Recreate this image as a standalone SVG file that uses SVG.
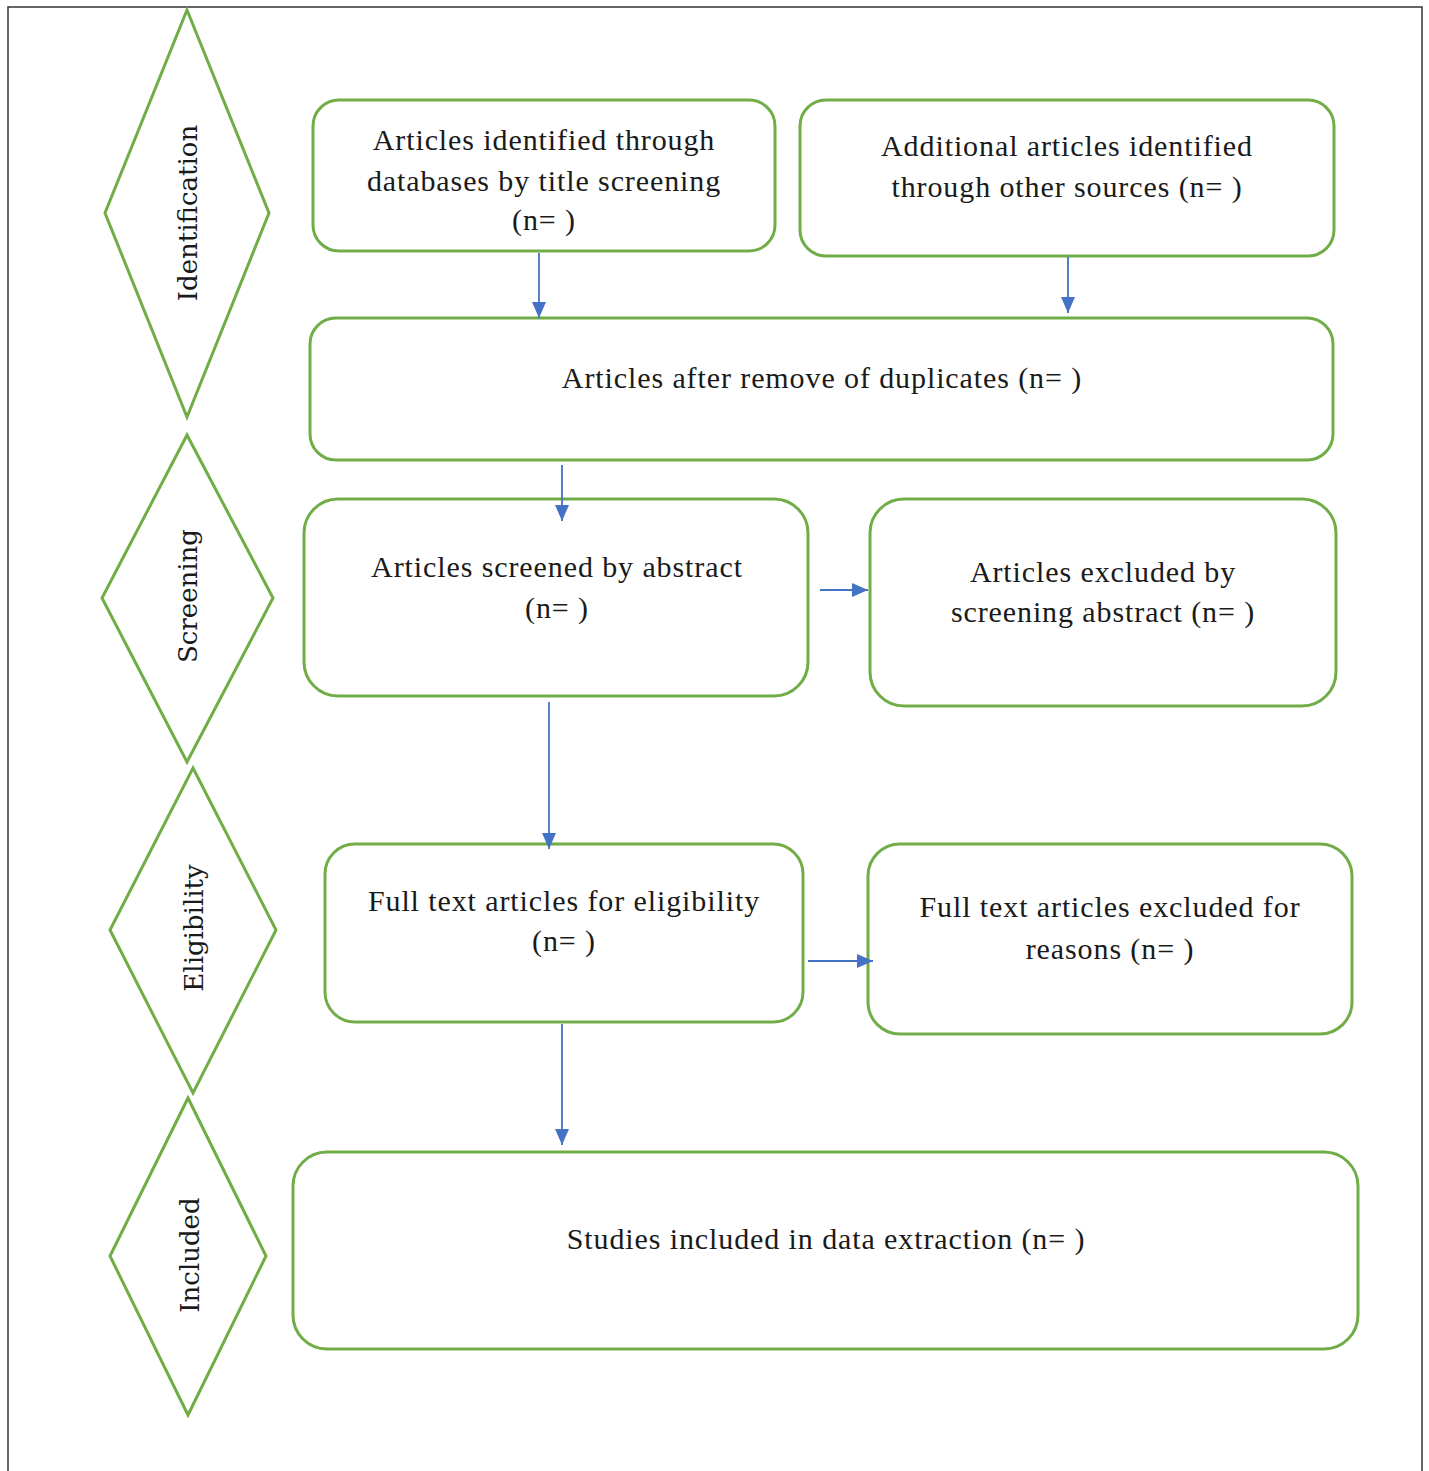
<svg xmlns="http://www.w3.org/2000/svg" width="1429" height="1471" viewBox="0 0 1429 1471">
<style>
.box{fill:#fff;stroke:#70AD47;stroke-width:3}
.dia{fill:#fff;stroke:#70AD47;stroke-width:3}
.t{font-family:"Liberation Serif","Times New Roman",serif;font-size:30px;letter-spacing:0.9px;fill:#1a1a1a;text-anchor:middle}
.r{font-family:"DejaVu Serif","Liberation Serif",serif;font-size:26px;fill:#1a1a1a;text-anchor:middle}
.c{stroke:#4472C4;stroke-width:1.8;fill:none;marker-end:url(#ah)}
</style>
<defs>
<marker id="ah" markerWidth="16" markerHeight="14" refX="16" refY="7" orient="auto" markerUnits="userSpaceOnUse" viewBox="0 0 16 14">
<path d="M0,0 L16,7 L0,14 z" fill="#4472C4"/>
</marker>
</defs>
<rect width="1429" height="1471" fill="#fff"/>
<path d="M8,1475 V7 H1422 V1475" fill="none" stroke="#333" stroke-width="1.5"/>
<g id="identification">
<polygon class="dia" points="187,10 269,213 187,417 105,213"/>
<text class="r" transform="translate(197,213) rotate(-90)">Identification</text>
</g>
<g id="screening">
<polygon class="dia" points="187,435 273,598 187,762 102,598"/>
<text class="r" transform="translate(197,596) rotate(-90)">Screening</text>
</g>
<g id="eligibility">
<polygon class="dia" points="193,768 276,930 193,1093 110,930"/>
<text class="r" transform="translate(203,928) rotate(-90)">Eligibility</text>
</g>
<g id="included">
<polygon class="dia" points="188,1098 266,1256 188,1415 110,1256"/>
<text class="r" transform="translate(199,1255) rotate(-90)">Included</text>
</g>
<g id="b1">
<rect class="box" x="313" y="100" width="462" height="151" rx="26"/>
<text class="t" x="544" y="150">Articles identified through</text>
<text class="t" x="544" y="191">databases by title screening</text>
<text class="t" x="544" y="230">(n= )</text>
</g>
<g id="b2">
<rect class="box" x="800" y="100" width="534" height="156" rx="26"/>
<text class="t" x="1067" y="156">Additional articles identified</text>
<text class="t" x="1067" y="197">through other sources (n= )</text>
</g>
<g id="b3">
<rect class="box" x="310" y="318" width="1023" height="142" rx="26"/>
<text class="t" x="822" y="388">Articles after remove of duplicates (n= )</text>
</g>
<g id="b4">
<rect class="box" x="304" y="499" width="504" height="197" rx="34"/>
<text class="t" x="557" y="577">Articles screened by abstract</text>
<text class="t" x="557" y="618">(n= )</text>
</g>
<g id="b5">
<rect class="box" x="870" y="499" width="466" height="207" rx="34"/>
<text class="t" x="1103" y="582">Articles excluded by</text>
<text class="t" x="1103" y="622">screening abstract (n= )</text>
</g>
<g id="b6">
<rect class="box" x="325" y="844" width="478" height="178" rx="30"/>
<text class="t" x="564" y="911">Full text articles for eligibility</text>
<text class="t" x="564" y="951">(n= )</text>
</g>
<g id="b7">
<rect class="box" x="868" y="844" width="484" height="190" rx="32"/>
<text class="t" x="1110" y="917">Full text articles excluded for</text>
<text class="t" x="1110" y="959">reasons (n= )</text>
</g>
<g id="b8">
<rect class="box" x="293" y="1152" width="1065" height="197" rx="34"/>
<text class="t" x="826" y="1249">Studies included in data extraction (n= )</text>
</g>
<g id="connectors">
<line class="c" x1="539" y1="253" x2="539" y2="318"/>
<line class="c" x1="1068" y1="257" x2="1068" y2="313"/>
<line class="c" x1="562" y1="465" x2="562" y2="521"/>
<line class="c" x1="820" y1="590" x2="868" y2="590"/>
<line class="c" x1="549" y1="702" x2="549" y2="849"/>
<line class="c" x1="808" y1="961" x2="873" y2="961"/>
<line class="c" x1="562" y1="1024" x2="562" y2="1145"/>
</g>
</svg>
